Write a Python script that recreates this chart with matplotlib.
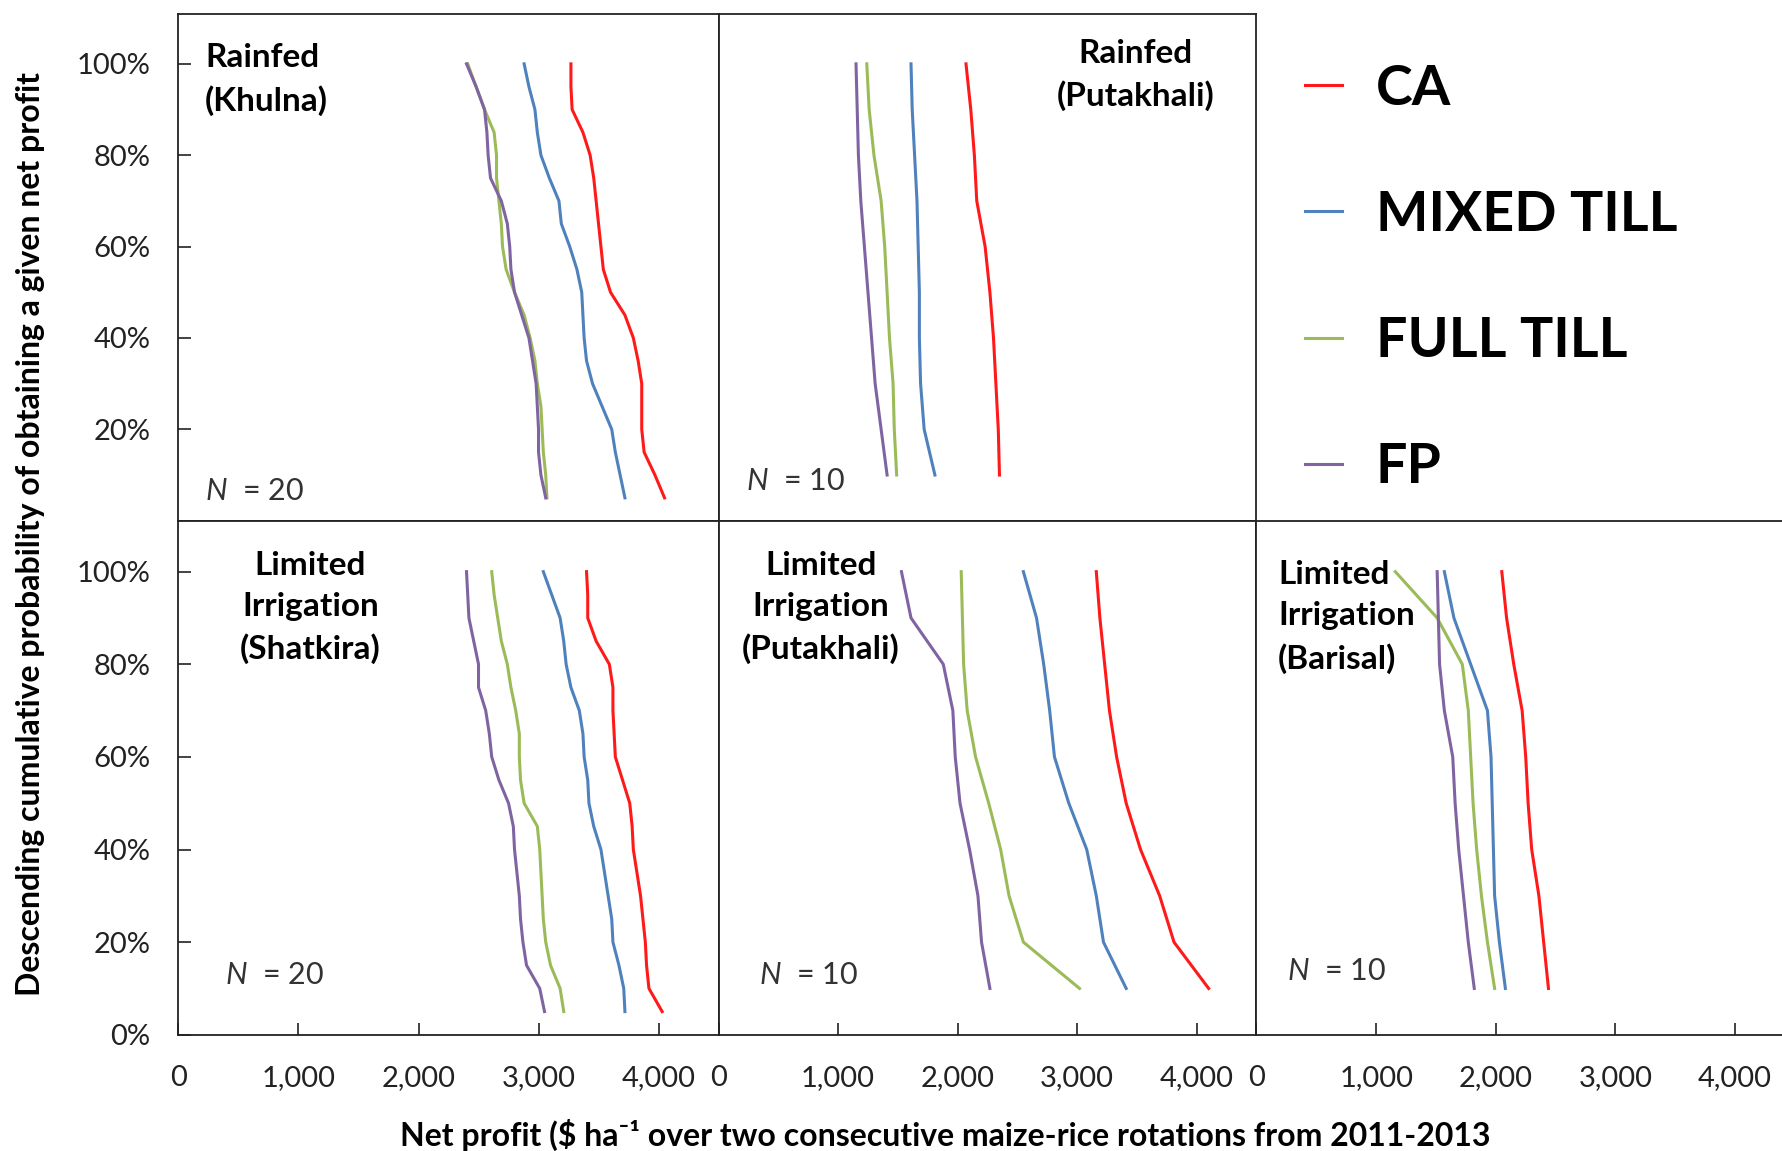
import matplotlib
matplotlib.use("Agg")
import matplotlib.pyplot as plt
from matplotlib.ticker import FuncFormatter, PercentFormatter

plt.rcParams['font.family'] = ['Lato', 'DejaVu Sans']
plt.rcParams['mathtext.fontset'] = 'custom'
plt.rcParams['mathtext.it'] = 'Lato:italic'
plt.rcParams['mathtext.rm'] = 'Lato'

# Descending cumulative probability levels
prob_n20 = [1.00, 0.95, 0.90, 0.85, 0.80, 0.75, 0.70, 0.65, 0.60, 0.55,
            0.50, 0.45, 0.40, 0.35, 0.30, 0.25, 0.20, 0.15, 0.10, 0.05]
prob_n10 = [1.00, 0.90, 0.80, 0.70, 0.60, 0.50, 0.40, 0.30, 0.20, 0.10]

series_names = ["CA", "MIXED TILL", "FULL TILL", "FP"]
series_colors = ["#FF1A1A", "#4F81BD", "#9BBB59", "#8064A2"]

# Rainfed (Khulna), N = 20
khulna_ca = [3270, 3270, 3280, 3370, 3430, 3460, 3480, 3500, 3520, 3540,
             3600, 3720, 3790, 3830, 3860, 3860, 3860, 3880, 3970, 4050]
khulna_mixed = [2880, 2920, 2970, 2990, 3020, 3090, 3170, 3190, 3260, 3320,
                3360, 3370, 3380, 3400, 3450, 3530, 3610, 3640, 3680, 3720]
khulna_full = [2410, 2480, 2550, 2630, 2650, 2650, 2670, 2690, 2700, 2730,
               2800, 2880, 2930, 2970, 2990, 3020, 3030, 3040, 3060, 3070]
khulna_fp = [2400, 2480, 2550, 2570, 2580, 2600, 2690, 2740, 2760, 2770,
             2800, 2860, 2920, 2950, 2980, 2990, 3000, 3000, 3020, 3060]

# Rainfed (Putakhali), N = 10
put_rf_ca = [2070, 2110, 2140, 2160, 2230, 2270, 2300, 2320, 2340, 2350]
put_rf_mixed = [1610, 1620, 1640, 1660, 1670, 1680, 1680, 1690, 1720, 1810]
put_rf_full = [1240, 1260, 1300, 1360, 1390, 1410, 1430, 1460, 1470, 1490]
put_rf_fp = [1150, 1160, 1170, 1190, 1220, 1250, 1280, 1310, 1360, 1410]

# Limited Irrigation (Shatkira), N = 20
shat_ca = [3400, 3410, 3410, 3480, 3590, 3620, 3620, 3630, 3640, 3700,
           3760, 3780, 3790, 3820, 3850, 3870, 3890, 3900, 3920, 4030]
shat_mixed = [3040, 3110, 3180, 3210, 3230, 3270, 3340, 3370, 3380, 3410,
              3420, 3460, 3520, 3550, 3580, 3610, 3620, 3670, 3710, 3720]
shat_full = [2610, 2630, 2660, 2690, 2740, 2770, 2810, 2840, 2840, 2850,
             2880, 2990, 3010, 3020, 3030, 3040, 3060, 3100, 3180, 3210]
shat_fp = [2400, 2410, 2420, 2460, 2500, 2500, 2560, 2590, 2610, 2670,
           2750, 2790, 2800, 2820, 2840, 2850, 2870, 2900, 3010, 3050]

# Limited Irrigation (Putakhali), N = 10
put_li_ca = [3160, 3190, 3230, 3270, 3330, 3410, 3530, 3690, 3810, 4100]
put_li_mixed = [2550, 2660, 2720, 2770, 2810, 2930, 3080, 3160, 3220, 3410]
put_li_full = [2030, 2040, 2050, 2080, 2150, 2260, 2360, 2430, 2550, 3020]
put_li_fp = [1530, 1610, 1880, 1960, 1980, 2020, 2100, 2170, 2200, 2270]

# Limited Irrigation (Barisal), N = 10
bar_ca = [2050, 2090, 2150, 2220, 2250, 2270, 2300, 2360, 2400, 2440]
bar_mixed = [1570, 1650, 1790, 1930, 1960, 1970, 1980, 1990, 2030, 2080]
bar_full = [1160, 1510, 1720, 1770, 1790, 1810, 1840, 1880, 1930, 1990]
bar_fp = [1510, 1520, 1530, 1570, 1640, 1660, 1690, 1730, 1770, 1820]

x_ticks = [0, 1000, 2000, 3000, 4000]
y_ticks_top = [0.2, 0.4, 0.6, 0.8, 1.0]
y_ticks_bottom = [0.0, 0.2, 0.4, 0.6, 0.8, 1.0]

fig = plt.figure(figsize=(17.83, 11.51), dpi=100)

# panel rectangles in figure fractions
col_x = [0.1001, 0.4030, 0.7047]
col_w = [0.3029, 0.3017, 0.2953]
row_y = [0.5476, 0.1010]
row_h = [0.4406, 0.4466]

panels = [
    # (row, col, title, title pos, ha, N text, N pos, prob, data, xmax)
    (0, 0, "Rainfed\n(Khulna)", (220, 1.045), "left", "20", (220, 0.065),
     prob_n20, [khulna_ca, khulna_mixed, khulna_full, khulna_fp], 4500),
    (0, 1, "Rainfed\n(Putakhali)", (3490, 1.055), "center", "10", (230, 0.087),
     prob_n10, [put_rf_ca, put_rf_mixed, put_rf_full, put_rf_fp], 4500),
    (1, 0, "Limited\nIrrigation\n(Shatkira)", (1100, 1.045), "center", "20", (390, 0.13),
     prob_n20, [shat_ca, shat_mixed, shat_full, shat_fp], 4500),
    (1, 1, "Limited\nIrrigation\n(Putakhali)", (855, 1.045), "center", "10", (340, 0.13),
     prob_n10, [put_li_ca, put_li_mixed, put_li_full, put_li_fp], 4500),
    (1, 2, "Limited\nIrrigation\n(Barisal)", (180, 1.025), "left", "10", (255, 0.137),
     prob_n10, [bar_ca, bar_mixed, bar_full, bar_fp], 4400),
]

legend_lines = []
for row, col, title, tpos, ha, n_txt, npos, prob, data, xmax in panels:
    ax = fig.add_axes([col_x[col], row_y[row], col_w[col], row_h[row]])
    for vals, name, color in zip(data, series_names, series_colors):
        line, = ax.plot(vals, prob, color=color, lw=2.2, label=name)
        if row == 0 and col == 0:
            legend_lines.append(line)
    ax.set_xlim(0, xmax)
    ax.set_ylim(0, 1.11)
    for s in ax.spines.values():
        s.set_linewidth(1.3)
        s.set_color("#222222")
    ax.tick_params(direction="in", length=9, width=1.2, labelsize=21,
                   colors="#222222")
    if row == 1:
        ax.set_xticks(x_ticks)
        ax.xaxis.set_major_formatter(FuncFormatter(lambda v, p: f"{int(v):,}"))
        ax.tick_params(axis="x", pad=22)
    else:
        ax.set_xticks([])
    if col == 0:
        ax.set_yticks(y_ticks_top if row == 0 else y_ticks_bottom)
        ax.yaxis.set_major_formatter(PercentFormatter(1.0, decimals=0))
        ax.tick_params(axis="y", pad=20)
    else:
        ax.set_yticks([])
    if col == 2:
        ax.spines["right"].set_visible(False)
    ax.text(tpos[0], tpos[1], title, ha=ha, va="top", fontsize=24,
            fontweight="bold", linespacing=1.5, multialignment=ha)
    ax.text(npos[0], npos[1], r"$N$  = " + n_txt, ha="left", va="center",
            fontsize=22, color="#333333")

fig.legend(legend_lines, series_names, loc="upper left",
           bbox_to_anchor=(0.704, 0.988), frameon=False,
           prop={"size": 40, "weight": "bold"}, handlelength=0.67,
           handletextpad=0.6, labelspacing=1.37)

fig.text(0.0172, 0.536, "Descending cumulative probability of obtaining a given net profit",
         rotation=90, ha="center", va="center", fontsize=23, fontweight="bold")
fig.text(0.530, 0.0142,
         "Net profit ($ ha\u207b\u00b9 over two consecutive maize-rice rotations from 2011-2013",
         ha="center", va="center", fontsize=23, fontweight="bold")

fig.savefig("out.png", dpi=100)
